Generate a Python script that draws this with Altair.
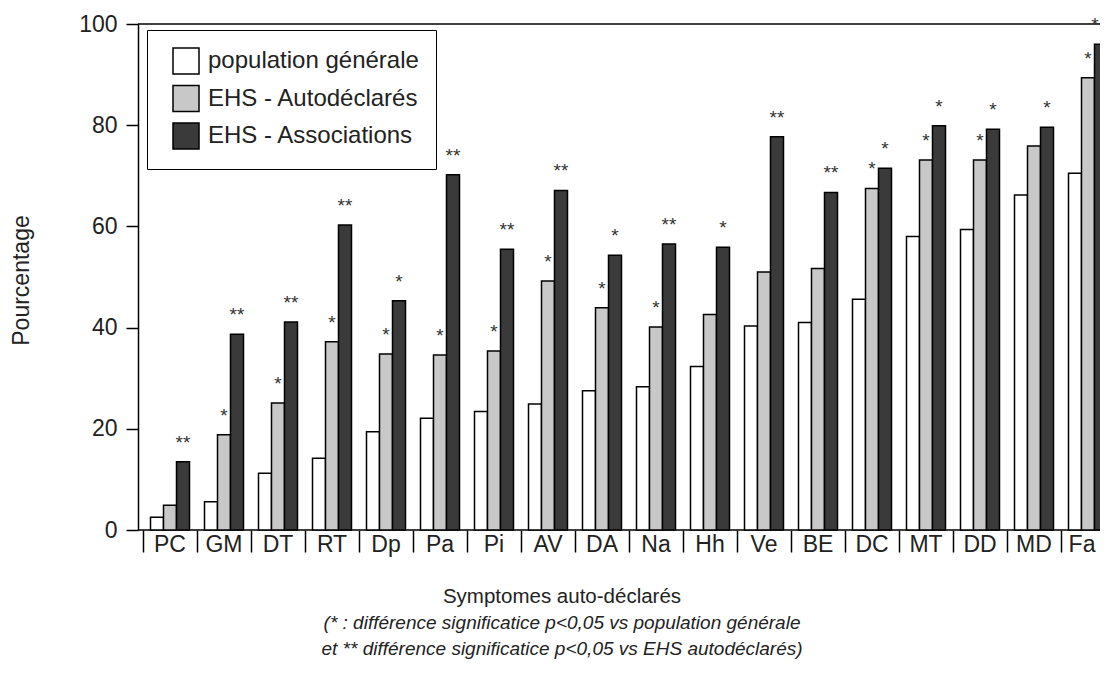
import altair as alt
import pandas as pd

cats = ["PC", "GM", "DT", "RT", "Dp", "Pa", "Pi", "AV", "DA", "Na",
        "Hh", "Ve", "BE", "DC", "MT", "DD", "MD", "Fa"]
series = ["population générale", "EHS - Autodéclarés", "EHS - Associations"]
pop = [2.5, 5.6, 11.2, 14.2, 19.4, 22.1, 23.4, 24.9, 27.5, 28.3,
       32.3, 40.3, 41.0, 45.6, 58.0, 59.4, 66.2, 70.5]
auto = [4.9, 18.8, 25.1, 37.2, 34.8, 34.6, 35.4, 49.2, 43.9, 40.1,
        42.6, 51.0, 51.7, 67.5, 73.1, 73.1, 75.9, 89.4]
assoc = [13.5, 38.7, 41.1, 60.3, 45.3, 70.2, 55.5, 67.1, 54.3, 56.5,
         55.9, 77.7, 66.7, 71.5, 79.9, 79.2, 79.6, 96.0]
sig_pop = [""] * 18
sig_auto = ["", "*", "*", "*", "*", "*", "*", "*", "*", "*",
            "", "", "", "*", "*", "*", "", "*"]
sig_assoc = ["**", "**", "**", "**", "*", "**", "**", "**", "*", "**",
             "*", "**", "**", "*", "*", "*", "*", "*"]
colors = ["#ffffff", "#c8c8c8", "#3a3a3a"]
y_ticks = [0, 20, 40, 60, 80, 100]
frame_levels = [0, 100]

rows = []
for s, vals, sigs in zip(series, [pop, auto, assoc], [sig_pop, sig_auto, sig_assoc]):
    for c, v, g in zip(cats, vals, sigs):
        rows.append({"cat": c, "series": s, "value": v, "sig": g})
df = pd.DataFrame(rows)
frame_df = pd.DataFrame({"level": frame_levels})

FONT = "Liberation Sans"
W, H = 972, 506

x_enc = alt.X(
    "cat:N", sort=cats,
    scale=alt.Scale(paddingInner=0, paddingOuter=0),
    axis=alt.Axis(title=None, bandPosition=0, domain=False, tickSize=22,
                  tickWidth=1.5, tickColor="black", labelFontSize=23,
                  labelPadding=-19, labelColor="#222", labelAngle=0,
                  labelFont=FONT,
                  labelOffset={"condition": {"test": "datum.value == 'Fa'", "value": -6},
                               "value": 0}),
)
xo_enc = alt.XOffset("series:N", sort=series,
                     scale=alt.Scale(domain=series, paddingInner=0, paddingOuter=0.577))
y_enc = alt.Y(
    "value:Q",
    scale=alt.Scale(domain=[0, 100], nice=False),
    axis=alt.Axis(values=y_ticks, title="Pourcentage", grid=False, offset=5,
                  domainColor="black", domainWidth=1.5, tickColor="black",
                  tickWidth=1.5, tickSize=12, labelFontSize=23, labelFont=FONT,
                  labelColor="#222", labelPadding=9, titleFont=FONT,
                  titleFontSize=23, titleFontWeight="normal", titleColor="#222",
                  titleX=-105, titleY=256),
)

bars = alt.Chart(df).mark_bar(stroke="black", strokeWidth=1.5).encode(
    x=x_enc, xOffset=xo_enc, y=y_enc,
    color=alt.Color(
        "series:N", sort=series,
        scale=alt.Scale(domain=series, range=colors),
        legend=alt.Legend(title=None, orient="none", legendX=4, legendY=6,
                          symbolType="square", symbolSize=676,
                          symbolStrokeColor="black", symbolStrokeWidth=1.5,
                          labelFontSize=24, labelFont=FONT, labelColor="#222",
                          labelOffset=8, labelLimit=0, rowPadding=5.5,
                          padding=17, symbolOffset=8, strokeColor="black",
                          fillColor="white"),
    ),
)

edge_test = "datum.cat == 'Fa' && datum.series == 'EHS - Associations'"

stars = alt.Chart(df).transform_filter(
    f"datum.sig != '' && !({edge_test})"
).mark_text(
    fontSize=19, dy=-13, baseline="alphabetic", color="#333", font=FONT
).encode(x=x_enc, xOffset=xo_enc, y=alt.Y("value:Q"), text="sig:N")

stars_edge = alt.Chart(df).transform_filter(edge_test).mark_text(
    fontSize=19, dy=-13, dx=-6, baseline="alphabetic", color="#333", font=FONT
).encode(x=x_enc, xOffset=xo_enc, y=alt.Y("value:Q"), text="sig:N")

frame = alt.Chart(frame_df).mark_rule(color="black", strokeWidth=1.5).encode(
    y=alt.Y("level:Q"), x=alt.value(-5), x2=alt.value(1000)
)

chart = alt.layer(frame, bars, stars, stars_edge).properties(
    width=W, height=H,
    autosize=alt.AutoSizeParams(type="none"),
    padding={"left": 135, "top": 16, "right": -15, "bottom": 144},
    title=alt.TitleParams(
        text="Symptomes auto-déclarés",
        subtitle=["(* : différence significatice p<0,05 vs population générale",
                  "et ** différence significatice p<0,05 vs EHS autodéclarés)"],
        orient="bottom", anchor="middle", frame="group", dx=-67, offset=31,
        fontSize=20.5, font=FONT, fontWeight="normal", color="#222",
        subtitleFont=FONT, subtitleFontSize=19, subtitleFontStyle="italic",
        subtitleColor="#222", subtitlePadding=6, subtitleLineHeight=26,
    ),
).configure_view(stroke="transparent")

chart.save("out.html", embed_options={"renderer": "svg", "actions": False})
